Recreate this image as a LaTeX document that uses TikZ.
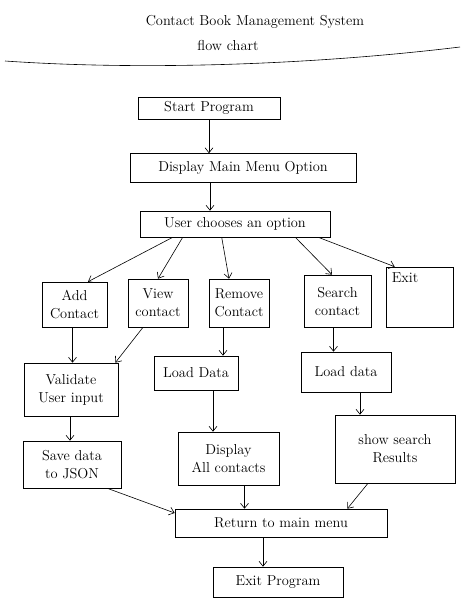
\documentclass[tikz,border=0pt]{standalone}
\usetikzlibrary{arrows.meta}
\begin{document}
\begin{tikzpicture}[x=1pt,y=-1pt,semithick,>={Straight Barb[length=5pt,width=8pt]},
    box/.style={draw=black, font=\Large, align=center, inner sep=1pt}]
    \useasboundingbox (0,0) rectangle (473,606);

    \node[font=\Large] (title) at (255,22) {Contact Book Management System};
    \node[font=\Large] (sub) at (228,45) {flow chart};
    \draw (5,61) .. controls (150,71) and (320,64) .. (460,47);

    \node[box,minimum width=142,minimum height=22] (start) at (209,108) {Start Program};
    \node[box,minimum width=226,minimum height=29] (menu) at (243,168) {Display Main Menu Option};
    \node[box,minimum width=190,minimum height=26] (choice) at (235,224) {User chooses an option};

    \node[box,minimum width=65,minimum height=45] (add) at (74.5,304.5) {Add\\Contact};
    \node[box,minimum width=60,minimum height=48] (view) at (158,303) {View\\contact};
    \node[box,minimum width=60,minimum height=48] (remove) at (239,303) {Remove\\Contact};
    \node[box,minimum width=67,minimum height=52] (search) at (337.5,301) {Search\\contact};
    \node[box,minimum width=67,minimum height=60,text width=60,align=left] (exit) at (419.5,297) {\,Exit\\[20pt]\mbox{}};

    \node[box,minimum width=94,minimum height=53] (validate) at (71,389.5) {Validate\\User input};
    \node[box,minimum width=84,minimum height=34] (loadview) at (196,373) {Load Data};
    \node[box,minimum width=90,minimum height=40] (loadsearch) at (346,372) {Load data};

    \node[box,minimum width=98,minimum height=47] (save) at (72,464.5) {Save data\\to JSON};
    \node[box,minimum width=101,minimum height=53] (display) at (228.5,458.5) {Display\\All contacts};
    \node[box,minimum width=120,minimum height=68] (results) at (395,449) {show search\\Results};

    \node[box,minimum width=212,minimum height=28] (back) at (281,523) {Return to main menu};
    \node[box,minimum width=130,minimum height=30] (stop) at (278,582) {Exit Program};

    % straight down arrows
    \foreach \a/\b/\s in {start/menu/0, menu/choice/-33, add/validate/-2,
        remove/loadview/-16, search/loadsearch/-4, validate/save/-1,
        loadview/display/17, loadsearch/results/14, display/back/16, back/stop/-18}
        \draw[->] ([xshift=\s pt]\a.south) -- ([xshift=\s pt]\a.south |- \b.north);

    % options
    \draw[->] ([xshift=33pt]choice.south west) -- ([xshift=13.5pt]add.north);
    \draw[->] ([xshift=43pt]choice.south west) -- (view.north);
    \draw[->] ([xshift=82pt]choice.south west) -- ([xshift=-10pt]remove.north);
    \draw[->] ([xshift=-35pt]choice.south east) -- ([xshift=-5.5pt]search.north);
    \draw[->] ([xshift=-12pt]choice.south east) -- ([xshift=9pt]exit.north west);

    \draw[->] ([xshift=-15pt]view.south) -- ([xshift=-3pt]validate.north east);
    \draw[->] ([xshift=-14pt]save.south east) -- ([yshift=10pt]back.west);
    \draw[->] ([xshift=-27pt]results.south) -- ([xshift=-40pt]back.north east);
\end{tikzpicture}
\end{document}
